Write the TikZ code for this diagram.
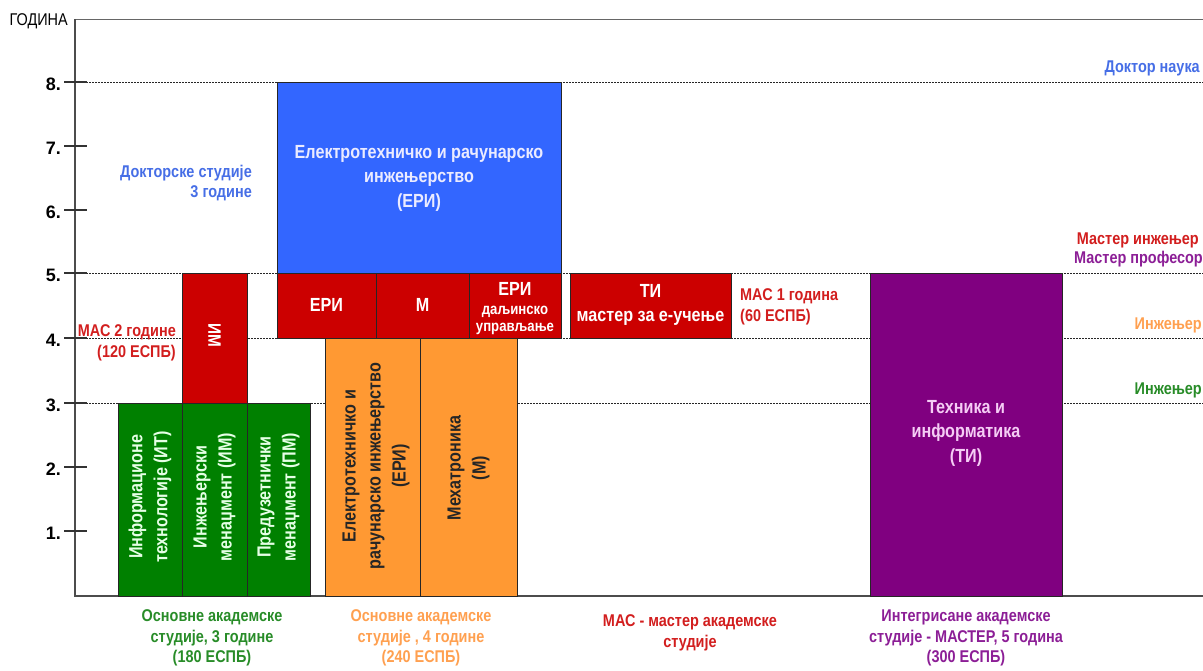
\documentclass[tikz,border=0pt]{standalone}
\usepackage{fontspec}
\setmainfont{Liberation Sans}[FakeStretch=0.85]
\newfontfamily\ticksans{Liberation Sans}
\definecolor{blueB}{RGB}{51,102,255}
\definecolor{redB}{RGB}{204,0,0}
\definecolor{orangeB}{RGB}{255,153,51}
\definecolor{greenB}{RGB}{0,128,0}
\definecolor{purpleB}{RGB}{128,0,128}
\definecolor{blueT}{RGB}{70,110,230}
\definecolor{redT}{RGB}{210,30,30}
\definecolor{orangeT}{RGB}{255,160,80}
\definecolor{greenT}{RGB}{40,140,40}
\definecolor{purpleT}{RGB}{140,30,150}
\definecolor{pinkT}{RGB}{245,205,245}
\begin{document}
\begin{tikzpicture}[x=1pt,y=-1pt,
  box/.style={draw=black!85,line width=0.7pt},
  txt/.style={font=\bfseries\fontsize{17}{20.5}\selectfont,align=center,inner sep=0pt},
  big/.style={font=\bfseries\fontsize{19}{24.5}\selectfont,align=center,inner sep=0pt},
  small/.style={font=\bfseries\fontsize{15.5}{17}\selectfont,align=center,inner sep=0pt},
  vtxt/.style={txt,rotate=90,font=\bfseries\fontsize{19}{25}\selectfont},
  ticklbl/.style={font=\ticksans\bfseries\fontsize{18}{20}\selectfont,anchor=east,inner sep=0pt},
  grid/.style={line width=1pt,black!85,dash pattern=on 1.8pt off 1.2pt},
  axis/.style={line width=1.4pt,black!70}
]
\useasboundingbox (0,0) rectangle (1203,670);
% dotted level lines
\foreach \yy in {82,273,338,403} \draw[grid] (65,\yy) -- (1203,\yy);
% axes
\draw[line width=1pt,black!60] (75,19) -- (1203,19);
\draw[axis] (75,19) -- (75,596) -- (1203,596);
% ticks and labels
\foreach \yy/\lab in {82/8.,146/7.,210/6.,273/5.,338/4.,403/3.,467/2.,531/1.}{
  \draw[line width=1.4pt,black!80] (64,\yy) -- (87,\yy);
  \node[ticklbl] (t\lab) at (61,\yy+2) {\lab};
}
\node[font=\fontsize{17}{18}\selectfont,anchor=east,inner sep=0pt] (godina) at (68,21.5) {ГОДИНА};

% blue doctoral box
\path[box,fill=blueB] (277,82) rectangle (561,273);
\node[big,text=white!92!blue] (eri8) at (419,178) {Електротехничко и рачунарско\\инжењерство\\(ЕРИ)};

% red master row
\path[box,fill=redB] (277,273) rectangle (376,338);
\path[box,fill=redB] (376,273) rectangle (469,338);
\path[box,fill=redB] (469,273) rectangle (561,338);
\node[big,text=white] (eriM) at (326.5,305) {ЕРИ};
\node[big,text=white] (mM) at (422.5,305) {М};
\node[big,text=white,anchor=base] (eriD) at (515,295) {ЕРИ};
\node[small,text=white] (eriD2) at (515,320) {даљинско\\управљање};
\path[box,fill=redB] (570,273) rectangle (731,338);
\node[big,text=white] (tiM) at (650.5,305) {ТИ\\мастер за е-учење};
\node[txt,text=redT,align=left,anchor=west] (mas1) at (740,307) {МАС 1 година\\(60 ЕСПБ)};

% red IM (MAS 2)
\path[box,fill=redB] (182,273) rectangle (247,403);
\node[font=\bfseries\fontsize{18}{20}\selectfont,inner sep=0pt,rotate=-90,text=white] (imM) at (214.5,335) {ИМ};
\node[txt,text=redT,align=right,anchor=east] (mas2) at (176,343) {МАС 2 године\\(120 ЕСПБ)};

% green boxes
\path[box,fill=greenB] (118,403) rectangle (182,596);
\path[box,fill=greenB] (182,403) rectangle (247,596);
\path[box,fill=greenB] (247,403) rectangle (310,596);
\node[vtxt,text=white!90!green] (it) at (150,497) {Информационе\\технологије (ИТ)};
\node[vtxt,text=white!90!green] (im) at (214.5,497) {Инжењерски\\менаџмент (ИМ)};
\node[vtxt,text=white!90!green] (pm) at (278.5,497) {Предузетнички\\менаџмент (ПМ)};

% orange boxes
\path[box,fill=orangeB] (325,338) rectangle (420,596);
\path[box,fill=orangeB] (420,338) rectangle (517,596);
\node[vtxt,text=black!85] (eriO) at (376,466) {Електротехничко и\\рачунарско инжењерство\\(ЕРИ)};
\node[vtxt,text=black!85] (mO) at (468.5,468) {Мехатроника\\(М)};

% purple box
\path[box,fill=purpleB] (870,273) rectangle (1062,596);
\node[big,text=pinkT] (ti) at (966,433) {Техника и\\информатика\\(ТИ)};

% left blue label
\node[txt,text=blueT,align=right,anchor=east] (dok) at (252,183) {Докторске студије\\3 године};

% right titles
\node[txt,text=blueT,anchor=east] (drn) at (1200,68) {Доктор наука};
\node[txt,text=redT,anchor=east] (mi) at (1199,240) {Мастер инжењер};
\node[txt,text=purpleT,anchor=east] (mp) at (1203,259) {Мастер професор};
\node[txt,text=orangeT,anchor=east] (ing1) at (1202,325) {Инжењер};
\node[txt,text=greenT,anchor=east] (ing2) at (1202,390) {Инжењер};

% bottom labels
\node[txt,text=greenT] (b1) at (212,638) {Основне академске\\студије, 3 године\\(180 ЕСПБ)};
\node[txt,text=orangeT] (b2) at (421,638) {Основне академске\\студије , 4 године\\(240 ЕСПБ)};
\node[txt,text=redT] (b3) at (690,633) {МАС - мастер академске\\студије};
\node[txt,text=purpleT] (b4) at (966,638) {Интегрисане академске\\студије - МАСТЕР, 5 година\\(300 ЕСПБ)};
\end{tikzpicture}
\end{document}
